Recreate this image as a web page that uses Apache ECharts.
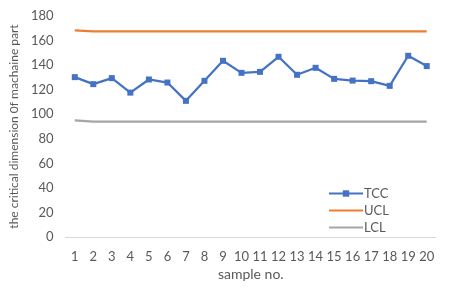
<!DOCTYPE html>
<html><head><meta charset="utf-8">
<script src="https://cdn.jsdelivr.net/npm/echarts@6/dist/echarts.min.js"></script>
<style>html,body{margin:0;padding:0;background:#fff}#c{width:450px;height:294px}</style>
</head><body><div id="c"></div>
<script>
const categories = ['1','2','3','4','5','6','7','8','9','10','11','12','13','14','15','16','17','18','19','20'];
const tcc = [130.2,124.5,129.4,117.6,128.3,125.8,110.9,127.2,143.5,133.7,134.5,146.8,132.1,137.8,128.8,127.4,126.9,123.1,147.6,139.2];
const ucl = [168.2,167.4,167.4,167.4,167.4,167.4,167.4,167.4,167.4,167.4,167.4,167.4,167.4,167.4,167.4,167.4,167.4,167.4,167.4,167.4];
const lcl = [94.9,94,94,94,94,94,94,94,94,94,94,94,94,94,94,94,94,94,94,94];
const yTicks = {min:0, max:180, interval:20};
const FONT = 'Lato';
const TXT = '#595959';
const LINE_ICON = 'path://M0,0L0.001,0L0,0ZM0,2.9H34V5.1H0ZM0,8L0.001,8L0,8Z';
const chart = echarts.init(document.getElementById('c'), null, {renderer:'canvas'});
chart.setOption({
  animation:false,
  textStyle:{fontFamily:FONT},
  grid:{left:63, right:14, top:16, bottom:57, containLabel:false},
  legend:{
    orient:'vertical', left:323, top:182, itemGap:4,
    itemWidth:34, itemHeight:8,
    textStyle:{fontFamily:FONT, fontSize:13, color:TXT, padding:[0,0,0,-4]},
    data:[{name:'TCC'},{name:'UCL', icon:LINE_ICON},{name:'LCL', icon:LINE_ICON}]
  },
  xAxis:{
    type:'category', data:categories, boundaryGap:true,
    name:'sample no.', nameLocation:'middle', nameGap:30,
    nameTextStyle:{fontFamily:FONT, fontSize:14, color:TXT},
    axisLine:{lineStyle:{color:'#d9d9d9', width:1}},
    axisTick:{show:false},
    axisLabel:{fontFamily:FONT, fontSize:13, color:TXT, margin:13, interval:0}
  },
  yAxis:{
    type:'value', min:yTicks.min, max:yTicks.max, interval:yTicks.interval,
    name:'the critical dimension 0f machaine part', nameLocation:'middle', nameGap:43,
    nameTextStyle:{fontFamily:FONT, fontSize:12, color:TXT},
    axisLine:{show:false}, axisTick:{show:false}, splitLine:{show:false},
    axisLabel:{fontFamily:FONT, fontSize:13, color:TXT, margin:12}
  },
  series:[
    {name:'TCC', type:'line', data:tcc, color:'#4472C4', symbol:'rect', symbolSize:6,
     lineStyle:{width:2.25, color:'#4472C4'}, itemStyle:{color:'#4472C4'}},
    {name:'UCL', type:'line', data:ucl, color:'#ED7D31', symbol:'none', showSymbol:false,
     lineStyle:{width:2.25, color:'#ED7D31'}},
    {name:'LCL', type:'line', data:lcl, color:'#A5A5A5', symbol:'none', showSymbol:false,
     lineStyle:{width:2.25, color:'#A5A5A5'}}
  ]
});
</script></body></html>
